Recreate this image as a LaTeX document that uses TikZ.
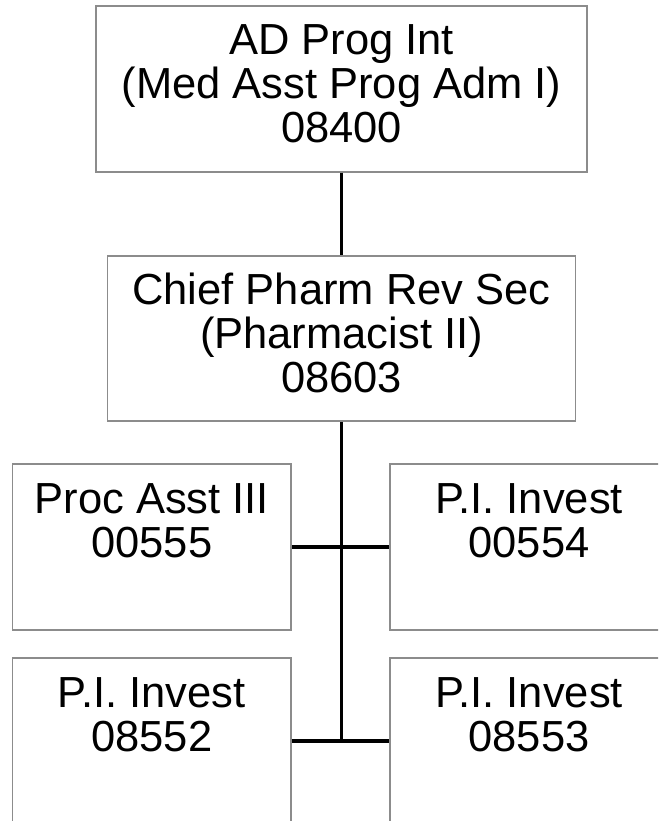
\documentclass[tikz,border=0pt]{standalone}
\usepackage{fontspec}
\setmainfont{Liberation Sans}
\newcommand{\lst}{\rule[-12pt]{0pt}{44pt}}
\begin{document}
\begin{tikzpicture}[x=1pt,y=-1pt,
  box/.style={draw=boxgray, line width=1.5pt, fill=white, inner sep=0pt,
    align=center, font=\fontsize{43.5}{44}\selectfont},
  link/.style={draw=black, line width=3.3pt}]
\definecolor{boxgray}{RGB}{140,140,140}
\useasboundingbox (0,0) rectangle (658,821);
\clip (0,0) rectangle (658,821);
\node[box, minimum width=491pt, minimum height=166pt] (top) at (341.5,89)
  {\lst AD Prog Int\\\lst (Med Asst Prog Adm I)\\\lst 08400};
\node[box, minimum width=468pt, minimum height=165pt] (mid) at (341.5,338.5)
  {\lst Chief Pharm Rev Sec\\\lst (Pharmacist II)\\\lst 08603};
\node[box, minimum width=278.5pt, minimum height=166pt] (p1) at (151.75,547)
  {\lst Proc Asst III\\\lst 00555\\\lst};
\node[box, minimum width=278pt, minimum height=166pt] (p2) at (529,547)
  {\lst P.I. Invest\\\lst 00554\\\lst};
\node[box, minimum width=278.5pt, minimum height=166pt] (p3) at (151.75,741)
  {\lst P.I. Invest\\\lst 08552\\\lst};
\node[box, minimum width=278pt, minimum height=166pt] (p4) at (529,741)
  {\lst P.I. Invest\\\lst 08553\\\lst};
\coordinate (j2) at (mid.south |- p3.east);
\draw[link] (top.south) -- (mid.north);
\draw[link] (mid.south) -- (j2);
\draw[link] (p1.east) -- (p2.west);
\draw[link] (p3.east) -- (p4.west);
\end{tikzpicture}
\end{document}
